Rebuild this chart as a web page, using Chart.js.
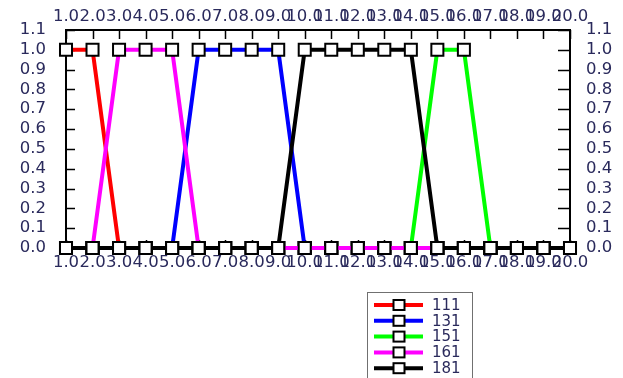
<!DOCTYPE html>
<html><head><meta charset="utf-8">
<style>html,body{margin:0;padding:0;background:#fff;}#wrap{width:623px;height:378px;}</style>
<script src="https://cdn.jsdelivr.net/npm/chart.js@4.4.0/dist/chart.umd.min.js"></script>
</head><body><div id="wrap"><canvas id="c" width="623" height="378"></canvas></div>
<script>
const categories = ['1.0','2.0','3.0','4.0','5.0','6.0','7.0','8.0','9.0','10.0','11.0','12.0','13.0','14.0','15.0','16.0','17.0','18.0','19.0','20.0'];
const seriesNames = ['111','131','151','161','181'];
const seriesColors = ['#ff0000','#0000ff','#00ff00','#ff00ff','#000000'];
const s111 = [1,1,0,0,0,0,0,0,0,0,0,0,0,0,0,0,0,0,0,0];
const s131 = [0,0,0,0,0,1,1,1,1,0,0,0,0,0,0,0,0,0,0,0];
const s151 = [0,0,0,0,0,0,0,0,0,0,0,0,0,0,1,1,0,0,0,0];
const s161 = [0,0,1,1,1,0,0,0,0,0,0,0,0,0,0,0,0,0,0,0];
const s181 = [0,0,0,0,0,0,0,0,0,1,1,1,1,1,0,0,0,0,0,0];
const yTicks = [0,0.1,0.2,0.3,0.4,0.5,0.6,0.7,0.8,0.9,1.0,1.1];

const seriesData = [s111,s131,s151,s161,s181];
const FONT = {family:'DejaVu Sans', size:16.5};
const TXT = '#2a2a5c';

const datasets = seriesData.map((d,i)=>({
  label: seriesNames[i], data: d,
  borderColor: seriesColors[i], backgroundColor: seriesColors[i],
  borderWidth: 4, tension: 0,
  pointStyle: 'rect', pointRadius: 8.5, pointHoverRadius: 8.5,
  pointBackgroundColor: '#ffffff', pointBorderColor: '#000000', pointBorderWidth: 2,
  clip: false, order: seriesData.length - i
}));

const setYTicks = s => { s.ticks = yTicks.map(v=>({value:v})); };

const innerTicks = {
  id:'innerTicks',
  beforeDatasetsDraw(chart){
    const {ctx, chartArea:a, scales} = chart;
    ctx.save(); ctx.strokeStyle='#000'; ctx.lineWidth=1.5;
    ctx.beginPath();
    yTicks.forEach(v=>{
      const py = Math.round(scales.y.getPixelForValue(v))+0.5;
      ctx.moveTo(a.left, py); ctx.lineTo(a.left+9, py);
      ctx.moveTo(a.right-12, py); ctx.lineTo(a.right, py);
    });
    categories.forEach((c,i)=>{
      const px = Math.round(scales.x.getPixelForValue(i))+0.5;
      ctx.moveTo(px, a.top); ctx.lineTo(px, a.top+9);
      ctx.moveTo(px, a.bottom-8); ctx.lineTo(px, a.bottom);
    });
    ctx.stroke(); ctx.restore();
  }
};

const boxLegend = {
  id:'boxLegend',
  afterDraw(chart){
    const ctx = chart.ctx; ctx.save();
    ctx.strokeStyle='#707070'; ctx.lineWidth=1;
    ctx.strokeRect(367.5, 292.5, 105, 100);
    chart.data.datasets.forEach((ds,k)=>{
      const y = 305 + k*15.8;
      ctx.strokeStyle = ds.borderColor; ctx.lineWidth = 4;
      ctx.beginPath(); ctx.moveTo(374, y); ctx.lineTo(423, y); ctx.stroke();
      ctx.fillStyle='#fff'; ctx.fillRect(393.5, y-5, 11, 10);
      ctx.strokeStyle='#000'; ctx.lineWidth=2; ctx.strokeRect(393.5, y-5, 11, 10);
      ctx.fillStyle = TXT; ctx.font = '15px "DejaVu Sans"';
      ctx.textAlign='left'; ctx.textBaseline='middle';
      ctx.fillText(ds.label, 432, y+1);
    });
    ctx.restore();
  }
};

const xTickCommon = {font:FONT, color:TXT, autoSkip:false, maxRotation:0, minRotation:0};
const yTickCommon = {font:FONT, color:TXT, autoSkip:false, callback:v=>Number(v).toFixed(1)};

new Chart(document.getElementById('c'), {
  type:'line',
  data:{labels:categories, datasets},
  options:{
    responsive:false, animation:false, devicePixelRatio:1,
    layout:{padding:0},
    plugins:{legend:{display:false}, tooltip:{enabled:false}},
    scales:{
      x:{type:'category', position:'bottom', offset:false,
         grid:{display:false, drawTicks:false},
         border:{display:true, color:'#000', width:2},
         ticks:Object.assign({padding:5}, xTickCommon),
         afterFit(s){ s.height = 130; }},
      x2:{type:'category', position:'top', offset:false, labels:categories,
         grid:{display:false, drawTicks:false},
         border:{display:true, color:'#000', width:2},
         ticks:Object.assign({padding:3}, xTickCommon),
         afterFit(s){ s.height = 24; }},
      y:{type:'linear', position:'left', min:0, max:1.1,
         grid:{display:false, drawTicks:false},
         border:{display:true, color:'#000', width:2},
         afterBuildTicks:setYTicks,
         ticks:Object.assign({padding:20}, yTickCommon),
         afterFit(s){ s.width = 66; }},
      y2:{type:'linear', position:'right', min:0, max:1.1,
         grid:{display:false, drawTicks:false},
         border:{display:true, color:'#000', width:2},
         afterBuildTicks:setYTicks,
         ticks:Object.assign({padding:16}, yTickCommon),
         afterFit(s){ s.width = 53; }}
    }
  },
  plugins:[innerTicks, boxLegend]
});
</script></body></html>
